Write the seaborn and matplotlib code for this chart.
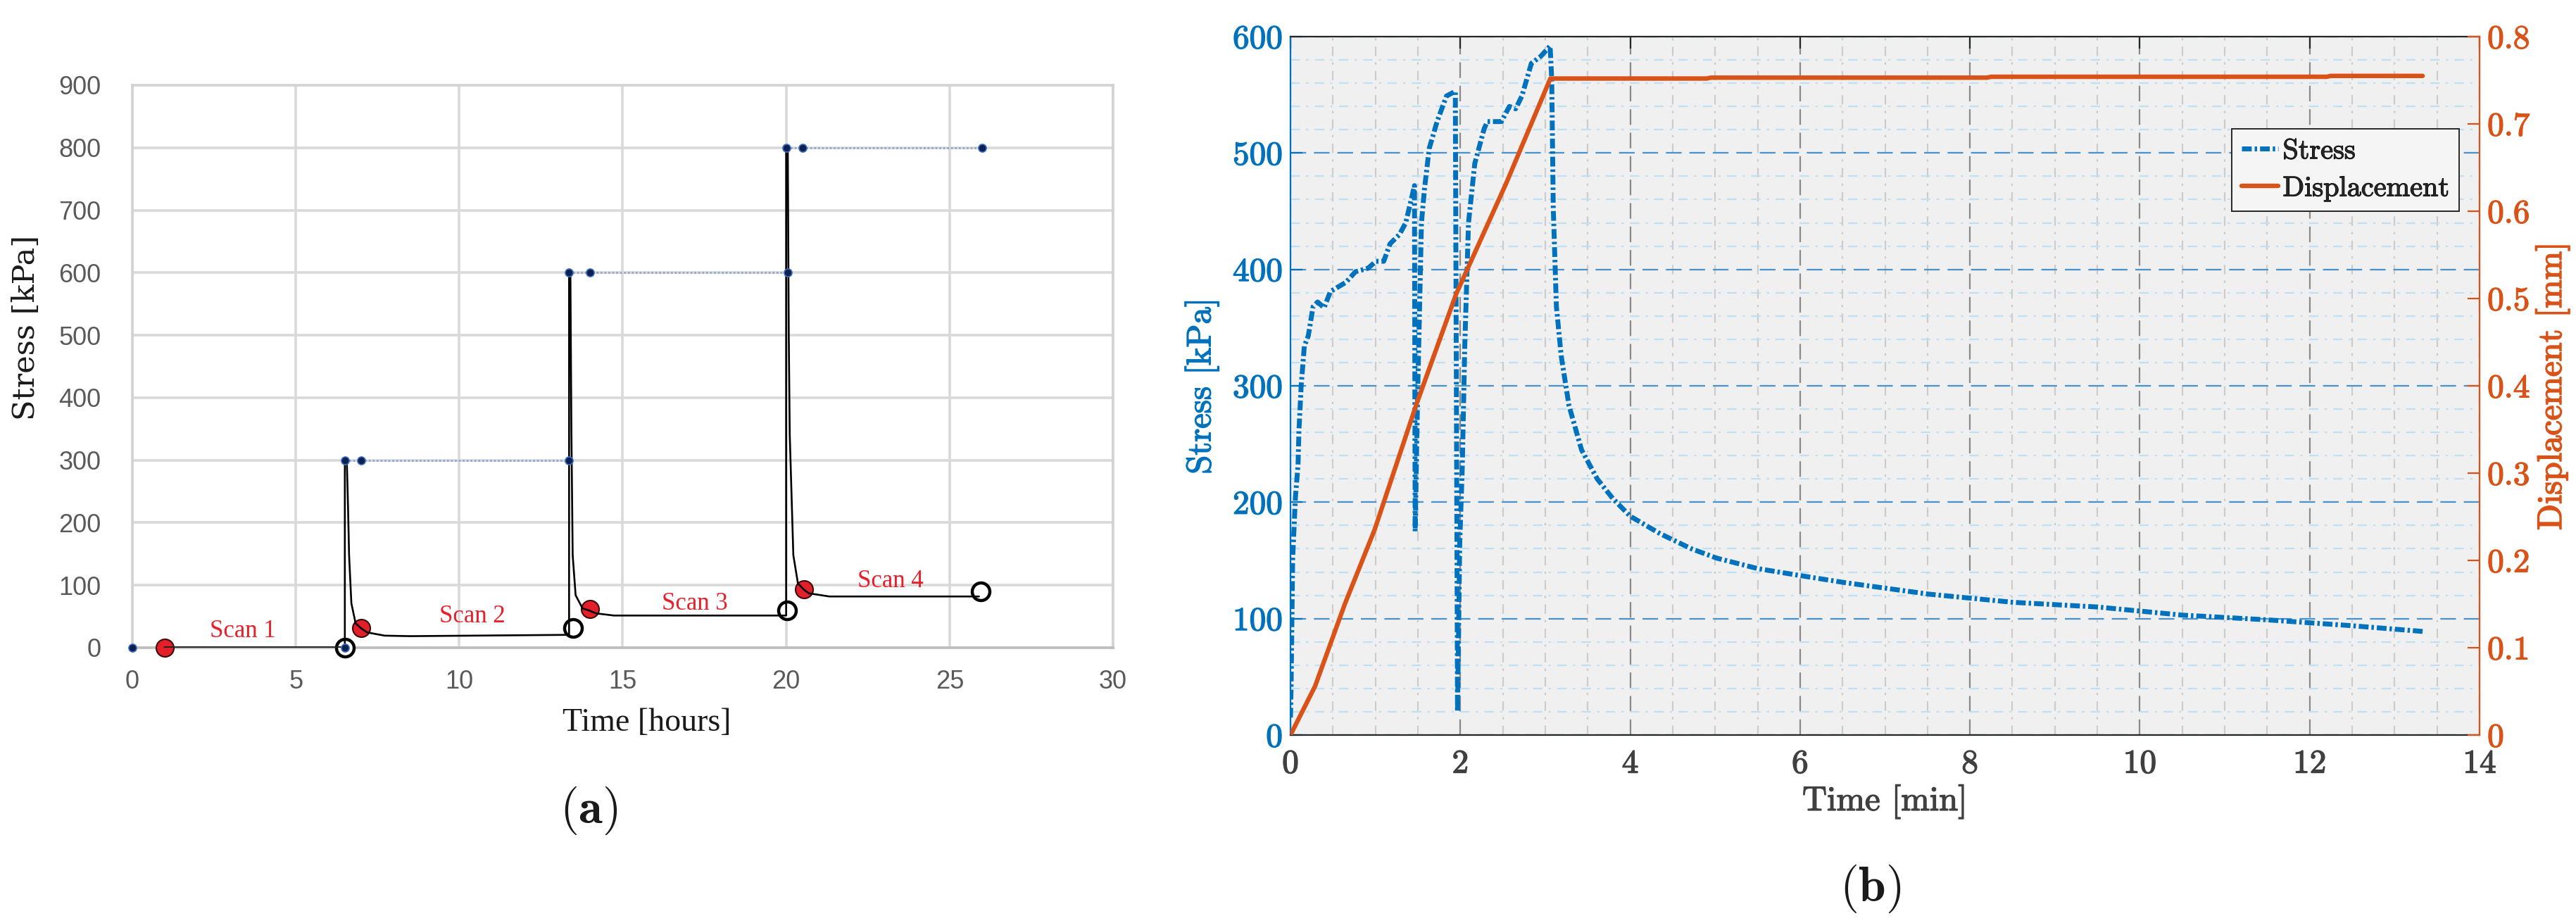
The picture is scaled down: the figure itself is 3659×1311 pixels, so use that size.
import numpy as np
import pandas as pd
import matplotlib
matplotlib.use("Agg")
import matplotlib.pyplot as plt
import matplotlib.patheffects as pe
import seaborn as sns
from matplotlib.ticker import MultipleLocator

# ---------------- Panel (a) data ----------------
a_curve_t = [1.0, 6.5, 6.5, 6.56, 6.6, 6.63, 6.70, 6.83, 7.0, 7.18, 7.72, 8.5, 13.36,
             13.36, 13.40, 13.43, 13.47, 13.56, 13.77, 14.0, 14.18, 14.73, 19.95,
             20.0, 20.0, 20.05, 20.08, 20.11, 20.22, 20.36, 20.54, 20.7, 21.32, 25.9]
a_curve_s = [0, 0, 300, 300, 220, 148, 71, 39, 31, 24.5, 19.3, 18.5, 20.6,
             600, 600, 350, 148, 84, 63, 59, 55, 51.5, 51.5,
             51.5, 800, 800, 500, 341, 148, 103, 93, 87, 82, 82]
a_load_t = [0, 6.5, 6.5, 7.0, 13.36, 13.36, 14.0, 20.06, 20.0, 20.5, 26.0]
a_load_s = [0, 0, 300, 300, 300, 600, 600, 600, 800, 800, 800]
a_load_unit = [0, 0, 1, 1, 1, 2, 2, 2, 3, 3, 3]
a_scan_t = [1.0, 7.0, 14.0, 20.54]
a_scan_s = [0, 31, 62, 93]
a_end_t = [6.5, 13.49, 20.02, 25.95]
a_end_s = [0, 31, 60, 90]
a_scan_labels = ["Scan 1", "Scan 2", "Scan 3", "Scan 4"]
a_scan_label_t = [3.38, 10.4, 17.2, 23.2]
a_scan_label_s = [26, 50, 70, 106]
a_xticks = [0, 5, 10, 15, 20, 25, 30]
a_yticks = [0, 100, 200, 300, 400, 500, 600, 700, 800, 900]

# ---------------- Panel (b) data ----------------
b_t = [0.0, 0.007, 0.026, 0.058, 0.089, 0.10, 0.126, 0.163, 0.21, 0.266, 0.32, 0.396,
       0.47, 0.654, 0.765, 0.913, 1.006, 1.098, 1.172, 1.283, 1.357, 1.431, 1.46,
       1.468, 1.497, 1.523, 1.542, 1.579, 1.634, 1.726, 1.837, 1.941,
       1.967, 1.993, 2.022, 2.052, 2.096, 2.17, 2.281, 2.318, 2.484, 2.577, 2.651,
       2.725, 2.836, 2.946, 3.057, 3.076, 3.094, 3.131, 3.187, 3.279, 3.427, 3.612,
       3.797, 4.0, 4.351, 4.721, 5.017, 5.5, 6.0, 6.52, 7.52, 8.51, 9.5, 10.5,
       11.49, 12.48, 13.33]
b_stress = [15, 40, 152, 204, 232, 262, 300, 334, 343, 368, 372, 367,
            381, 389, 398, 401, 407, 407, 422, 430, 440, 463, 472,
            175, 292, 377, 440, 470, 504, 527, 549, 553,
            20, 165, 228, 334, 440, 491, 521, 527, 527, 540, 538,
            549, 577, 583, 592, 563, 453, 368, 326, 283, 245, 220,
            203, 188, 173, 160, 152, 143, 137, 131, 121, 114, 110, 103,
            99, 94, 89]
b_disp_t = [0.0, 0.29, 0.64, 0.99, 1.487, 1.95, 2.54, 3.06, 3.3, 4.9, 4.95, 8.2, 8.25, 12.2, 12.25, 13.33]
b_disp = [0.0, 0.056, 0.15, 0.235, 0.38, 0.505, 0.632, 0.752, 0.752, 0.752, 0.753, 0.753, 0.754, 0.754, 0.755, 0.755]
b_xticks = [0, 2, 4, 6, 8, 10, 12, 14]
b_yticks = [0, 100, 200, 300, 400, 500, 600]
b_y2ticks = [0, 0.1, 0.2, 0.3, 0.4, 0.5, 0.6, 0.7, 0.8]
b_y2ticklabels = ["0", "0.1", "0.2", "0.3", "0.4", "0.5", "0.6", "0.7", "0.8"]

BLUE = "#0072BD"
ORANGE = "#D95319"

sns.set_style("white")
plt.rcParams["mathtext.fontset"] = "cm"
plt.rcParams["axes.unicode_minus"] = False
plt.rcParams["font.family"] = ["DejaVu Sans"]

fig = plt.figure(figsize=(36.59, 13.11), dpi=100)

# ======================= Panel (a) =======================
axa = fig.add_axes([0.05138, 0.29825, 0.3807, 0.6095])
axa.set_xlim(0, 30)
axa.set_ylim(0, 900)
axa.set_xticks(a_xticks)
axa.set_yticks(a_yticks)
axa.grid(True, color="#d9d9d9", lw=2.6)
axa.set_axisbelow(True)
for sp in axa.spines.values():
    sp.set_color("#d3d3d3")
    sp.set_linewidth(2.6)
axa.spines["bottom"].set_color("#bdbdbd")
axa.tick_params(axis="both", length=0, labelsize=26, labelcolor="#595959")
axa.tick_params(axis="x", pad=22)
axa.tick_params(axis="y", pad=32)
for lbl in axa.get_xticklabels() + axa.get_yticklabels():
    lbl.set_fontfamily(["Liberation Sans Narrow", "Liberation Sans"])

df_load = pd.DataFrame({"t": a_load_t, "s": a_load_s, "u": a_load_unit})
sns.lineplot(data=df_load, x="t", y="s", units="u", estimator=None, sort=False,
             ax=axa, color="#8fa8d0", lw=2.0, legend=False)
for ln in axa.lines:
    ln.set_linestyle((0, (1, 1)))

sns.scatterplot(x=a_scan_t, y=a_scan_s, ax=axa, s=18**2, color="#e3202a",
                edgecolor="#3a0a0a", linewidth=1.5, zorder=4, clip_on=False)
sns.scatterplot(x=a_end_t, y=a_end_s, ax=axa, s=18**2, color="white",
                edgecolor="black", linewidth=3.2, zorder=4, clip_on=False)

df_curve = pd.DataFrame({"t": a_curve_t, "s": a_curve_s})
sns.lineplot(data=df_curve, x="t", y="s", estimator=None, sort=False, ax=axa,
             color="black", lw=1.9, zorder=5)
sns.lineplot(x=a_curve_t[:2], y=a_curve_s[:2], estimator=None, sort=False, ax=axa,
             color="#222222", lw=3.5, zorder=5)

sns.scatterplot(x=a_load_t, y=a_load_s, ax=axa, s=8**2, color="#0c2150",
                edgecolor="#3f6fc0", linewidth=1.2, zorder=6, clip_on=False)
for c in axa.collections:
    c.set_clip_on(False)

for lab, tx, sy in zip(a_scan_labels, a_scan_label_t, a_scan_label_s):
    axa.text(tx, sy, lab, color="#e8202a", fontsize=25, ha="center", va="center",
             family=["Liberation Serif"], zorder=7)

axa.set_xlabel("")
axa.set_ylabel("")
fig.text(919 / 3659, 1 - 1027 / 1311, "Time [hours]", fontsize=33, ha="center", va="center",
         family=["Liberation Serif"], color="#1a1a1a")
fig.text(37 / 3659, 1 - 465 / 1311, "Stress [kPa]", fontsize=31, ha="center", va="center",
         rotation=90, family=["DejaVu Serif"], color="#1a1a1a")
fig.text(836 / 3659, 1 - 1151 / 1311, r"($\mathbf{a}$)", fontsize=50, ha="center",
         va="center", family=["cmr10"], color="#1a1a1a")

# ======================= Panel (b) =======================
axb = fig.add_axes([0.50096, 0.20366, 0.46160, 0.75667])
axb.set_facecolor("#f0f0f0")
axb.set_xlim(0, 14)
axb.set_ylim(0, 600)
axb.set_xticks(b_xticks)
axb.set_yticks(b_yticks)
axb.xaxis.set_minor_locator(MultipleLocator(0.5))
axb.yaxis.set_minor_locator(MultipleLocator(20))
axb.set_axisbelow(True)
axb.grid(True, which="minor", axis="y", color="#bfe0f2", lw=1.6, ls=(0, (6, 4, 1.5, 4)))
axb.grid(True, which="minor", axis="x", color="#cccccc", lw=1.6, ls=(0, (6, 4, 1.5, 4)))
axb.grid(True, which="major", axis="x", color="#8a8a8a", lw=1.6, ls=(0, (10, 5)))
axb.grid(True, which="major", axis="y", color="#4a92cc", lw=1.6, ls=(0, (10, 5)))

df_b = pd.DataFrame({"t": b_t, "Stress": b_stress})
sns.lineplot(data=df_b, x="t", y="Stress", estimator=None, sort=False, ax=axb,
             color=BLUE, lw=5.0, label="Stress", legend=False)
stress_line = axb.lines[-1]
stress_line.set_dashes([2.0, 0.6, 0.5, 0.6])
stress_line.set_dash_capstyle("butt")

axb2 = axb.twinx()
df_d = pd.DataFrame({"t": b_disp_t, "Displacement": b_disp})
sns.lineplot(data=df_d, x="t", y="Displacement", estimator=None, sort=False, ax=axb2,
             color=ORANGE, lw=4.6, label="Displacement", legend=False)
disp_line = axb2.lines[-1]
axb2.set_ylim(0, 0.8)
axb2.set_yticks(b_y2ticks)
axb2.set_yticklabels(b_y2ticklabels)
axb2.set_xlim(0, 14)

for sp in ["top", "bottom"]:
    axb.spines[sp].set_color("#262626")
    axb.spines[sp].set_linewidth(1.6)
axb.spines["left"].set_color(BLUE)
axb.spines["left"].set_linewidth(1.6)
axb.spines["right"].set_visible(False)
for sp in ["top", "bottom", "left"]:
    axb2.spines[sp].set_visible(False)
axb2.spines["right"].set_color(ORANGE)
axb2.spines["right"].set_linewidth(1.6)

axb.tick_params(axis="x", which="major", direction="in", length=12, width=1.6,
                color="#262626", top=True, labelsize=34, labelcolor="#404040", pad=15)
axb.tick_params(axis="y", which="major", direction="in", length=12, width=1.6,
                color=BLUE, labelsize=34, labelcolor=BLUE, pad=8, right=False)
axb.tick_params(which="minor", length=0)
axb2.tick_params(axis="y", which="major", direction="in", length=12, width=1.6,
                 color=ORANGE, labelsize=34, labelcolor=ORANGE, pad=8)
for lbl in axb.get_xticklabels() + axb.get_yticklabels() + axb2.get_yticklabels():
    lbl.set_fontfamily(["cmr10"])
    lbl.set_path_effects([pe.withStroke(linewidth=1.0, foreground=lbl.get_color())])

axb.set_xlabel("Time [min]", fontsize=35, family=["cmr10"], color="#404040", labelpad=6)
axb.set_ylabel("Stress [kPa]", fontsize=35, family=["cmr10"], color=BLUE, labelpad=14)
axb2.set_ylabel("Displacement [mm]", fontsize=35, family=["cmr10"], color=ORANGE, labelpad=6)
axb.xaxis.label.set_path_effects([pe.withStroke(linewidth=1.0, foreground="#404040")])
axb.yaxis.label.set_path_effects([pe.withStroke(linewidth=1.0, foreground=BLUE)])
axb2.yaxis.label.set_path_effects([pe.withStroke(linewidth=1.2, foreground=ORANGE)])

leg = axb2.legend([stress_line, disp_line], ["Stress", "Displacement"],
                  loc="upper right", bbox_to_anchor=(0.983, 0.868),
                  prop={"family": "cmr10", "size": 29}, frameon=True, fancybox=False,
                  handlelength=1.3, handletextpad=0.15, labelspacing=0.42,
                  borderpad=0.35, borderaxespad=0.0)
leg.get_frame().set_edgecolor("#262626")
leg.get_frame().set_facecolor("#f5f5f5")
leg.get_frame().set_alpha(1.0)
leg.get_frame().set_linewidth(1.4)
for txt in leg.get_texts():
    txt.set_path_effects([pe.withStroke(linewidth=0.8, foreground="black")])

fig.text(2657 / 3659, 1 - 1262 / 1311, r"($\mathbf{b}$)", fontsize=50, ha="center",
         va="center", family=["cmr10"], color="#1a1a1a")

fig.savefig("out.png", dpi=100)
